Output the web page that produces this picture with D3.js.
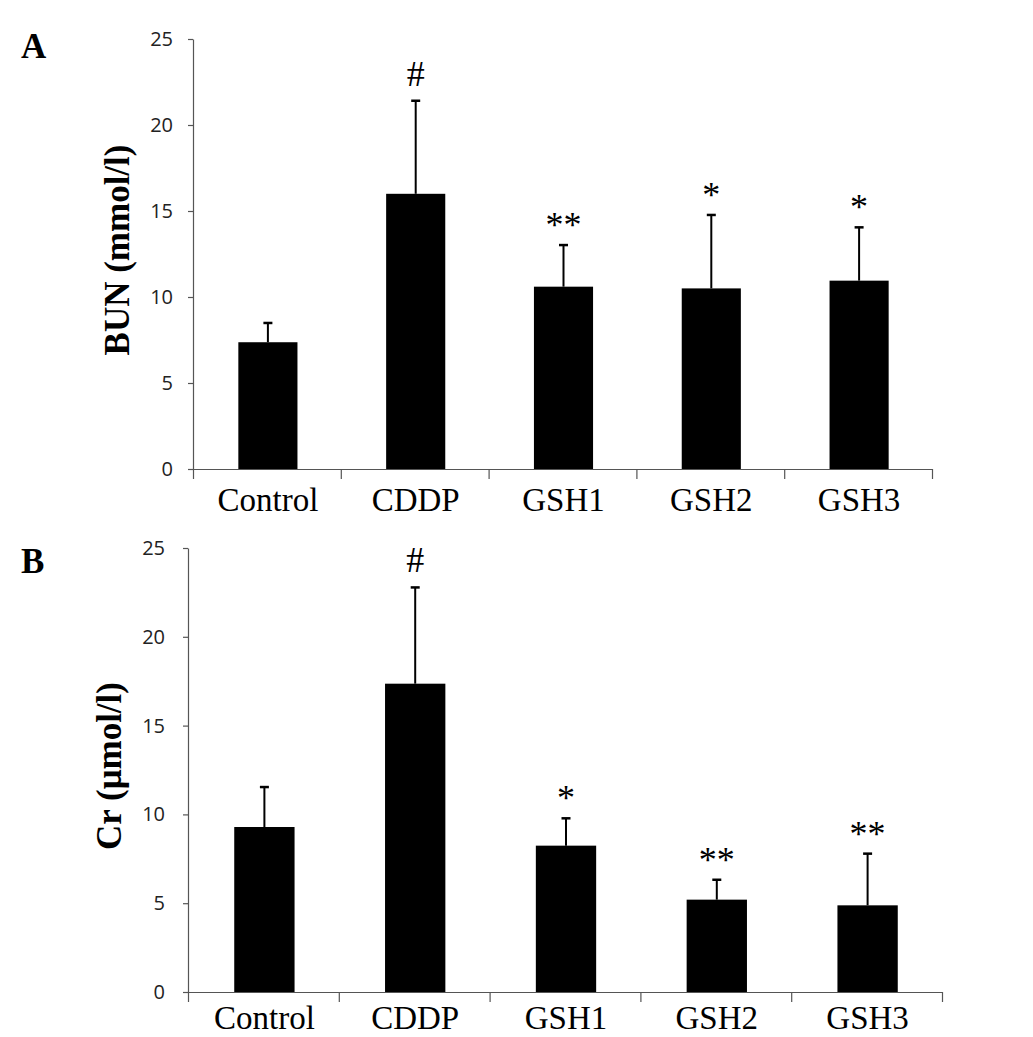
<!DOCTYPE html>
<html>
<head>
<meta charset="utf-8">
<script src="https://cdn.jsdelivr.net/npm/d3@7"></script>
<style>
  html, body { margin: 0; padding: 0; background: #fff; }
  svg { display: block; }
</style>
</head>
<body>
<svg id="chart" width="1033" height="1037"></svg>
<script>
// ---- data ----
const categories = ["Control", "CDDP", "GSH1", "GSH2", "GSH3"];
const bunMean = [7.37, 16.0, 10.6, 10.5, 10.95];
const bunErr  = [1.12, 5.41, 2.42, 4.27, 3.10];
const bunSig  = ["", "#", "**", "*", "*"];
const crMean  = [9.29, 17.36, 8.24, 5.20, 4.88];
const crErr   = [2.25, 5.42, 1.54, 1.12, 2.91];
const crSig   = ["", "#", "*", "**", "**"];
const yTicks  = [0, 5, 10, 15, 20, 25];
const yMax = 25;

// ---- layout ----
const panels = [
  { letter: "A", title: "BUN (mmol/l)", mean: bunMean, err: bunErr, sig: bunSig,
    x0: 193, x1: 932, yTop: 39, yBot: 469, letterX: 21, letterY: 58,
    titleX: 129, tickPad: 15, labPad: 19 },
  { letter: "B", title: "Cr (\u03bcmol/l)", mean: crMean, err: crErr, sig: crSig,
    x0: 188, x1: 942, yTop: 548, yBot: 992, letterX: 21, letterY: 573,
    titleX: 121, tickPad: 18, labPad: 14 }
];

const svg = d3.select("#chart");
const axisColor = "#555";
const serif = "'Liberation Serif', 'Times New Roman', serif";

panels.forEach(p => {
  const g = svg.append("g");
  const x = d3.scaleBand().domain(categories).range([p.x0, p.x1])
    .paddingInner(0.6).paddingOuter(0.3);
  const xb = d3.scaleLinear().domain([0, categories.length]).range([p.x0, p.x1]);
  const y = d3.scaleLinear().domain([0, yMax]).range([p.yBot, p.yTop]);

  // bars
  g.selectAll("rect.bar").data(categories).join("rect")
    .attr("class", "bar")
    .attr("x", (d) => x(d) + 1)
    .attr("width", x.bandwidth())
    .attr("y", (d, i) => y(p.mean[i]))
    .attr("height", (d, i) => y(0) - y(p.mean[i]))
    .attr("fill", "#000");

  // error bars (upper only)
  const cx = d => x(d) + 1 + x.bandwidth() / 2;
  g.selectAll("line.err").data(categories).join("line")
    .attr("class", "err")
    .attr("x1", cx).attr("x2", cx)
    .attr("y1", (d, i) => y(p.mean[i]))
    .attr("y2", (d, i) => y(p.mean[i] + p.err[i]))
    .attr("stroke", "#000").attr("stroke-width", 2);
  g.selectAll("line.cap").data(categories).join("line")
    .attr("class", "cap")
    .attr("x1", d => cx(d) - 4.5).attr("x2", d => cx(d) + 4.5)
    .attr("y1", (d, i) => y(p.mean[i] + p.err[i]))
    .attr("y2", (d, i) => y(p.mean[i] + p.err[i]))
    .attr("stroke", "#000").attr("stroke-width", 2.5);

  // significance marks
  g.selectAll("text.sig").data(categories).join("text")
    .attr("class", "sig")
    .attr("x", cx)
    .attr("y", (d, i) => {
      const s = p.sig[i];
      const centerOff = s === "#" ? 12 : 19;
      return y(p.mean[i] + p.err[i]) - 27 + centerOff;
    })
    .attr("text-anchor", "middle")
    .attr("font-family", serif)
    .attr("font-size", 36)
    .attr("fill", "#000")
    .text((d, i) => p.sig[i]);

  // y axis
  const yAxis = g.append("g")
    .attr("transform", `translate(${p.x0},0)`)
    .call(d3.axisLeft(y).tickValues(yTicks).tickSize(5).tickPadding(p.tickPad).tickSizeOuter(0));
  yAxis.select(".domain").attr("stroke", axisColor).attr("stroke-width", 1.2);
  yAxis.selectAll(".tick line").attr("stroke", axisColor).attr("stroke-width", 1.2);
  yAxis.selectAll(".tick text")
    .attr("font-family", "'Open Sans', 'DejaVu Sans', sans-serif")
    .attr("font-size", 20).attr("fill", "#222");

  // x axis: boundary ticks
  const xAxis = g.append("g")
    .attr("transform", `translate(0,${p.yBot})`)
    .call(d3.axisBottom(xb).ticks(categories.length).tickSize(10).tickFormat("").tickSizeOuter(0));
  xAxis.select(".domain").attr("stroke", axisColor).attr("stroke-width", 1.2);
  xAxis.selectAll(".tick line").attr("stroke", axisColor).attr("stroke-width", 1.2);

  // x axis: category labels
  const xLab = g.append("g")
    .attr("transform", `translate(1,${p.yBot})`)
    .call(d3.axisBottom(x).tickSize(0).tickPadding(p.labPad));
  xLab.select(".domain").remove();
  xLab.selectAll(".tick text")
    .attr("font-family", serif)
    .attr("font-size", 33).attr("fill", "#000");

  // y title
  g.append("text")
    .attr("transform", `translate(${p.titleX},${(p.yTop + p.yBot) / 2 - 4}) rotate(-90)`)
    .attr("text-anchor", "middle")
    .attr("font-family", serif)
    .attr("font-weight", "bold")
    .attr("font-size", 35)
    .attr("fill", "#000")
    .text(p.title);

  // panel letter
  g.append("text")
    .attr("x", p.letterX).attr("y", p.letterY)
    .attr("font-family", serif)
    .attr("font-weight", "bold")
    .attr("font-size", 35)
    .attr("fill", "#000")
    .text(p.letter);
});
</script>
</body>
</html>
